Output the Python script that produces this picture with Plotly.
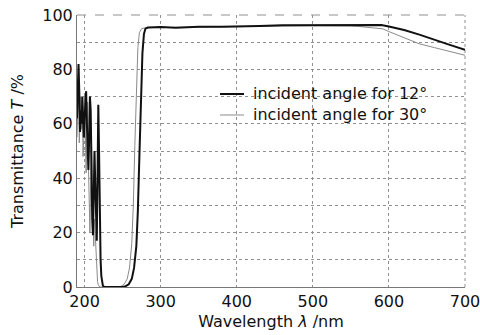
import plotly.graph_objects as go

# 12 degree incidence (black)
wl_12 = [190, 191, 192, 193, 194, 195, 196, 197, 198, 199, 200, 201, 202, 203, 204, 205, 206, 207, 208, 209,
         210, 211, 212, 213, 214, 215, 216, 217, 218, 219, 220, 221, 222, 223, 224, 226, 250, 254, 258, 262,
         265, 268, 270, 272, 274, 276, 278, 280, 283, 300, 320, 350, 380, 400, 430, 460, 500, 540, 570, 590,
         600, 620, 640, 660, 680, 700]
t_12 = [62, 70, 82, 72, 57, 65, 60, 70, 62, 55, 62, 68, 72, 60, 48, 43, 55, 70, 65, 40,
        25, 19, 30, 50, 38, 20, 17, 40, 67, 50, 25, 10, 4, 1.5, 0.5, 0, 0, 0.3, 1, 3,
        7, 15, 28, 48, 70, 86, 93, 95, 95.4, 95.6, 95.3, 95.7, 95.7, 95.9, 96.0, 96.2, 96.3, 96.4, 96.5, 96.3,
        95.8, 94.5, 92.8, 90.8, 89.0, 87.2]

# 30 degree incidence (gray)
wl_30 = [190, 191, 192, 193, 194, 195, 196, 197, 198, 199, 200, 201, 202, 203, 204, 205, 206, 207, 208, 209,
         210, 211, 212, 213, 214, 215, 216, 217, 218, 219, 221, 245, 248, 252, 256, 259, 262, 264, 266, 268,
         270, 272, 275, 280, 300, 330, 360, 400, 450, 500, 530, 550, 560, 580, 592, 600, 620, 640, 660, 680, 700]
t_30 = [55, 72, 75, 53, 60, 70, 58, 66, 48, 55, 70, 60, 42, 55, 68, 45, 30, 20, 40, 55,
        35, 20, 15, 25, 18, 10, 5, 2, 0.8, 0.3, 0, 0, 0.3, 1, 3, 7, 16, 30, 52, 75,
        88, 93.5, 95, 95.3, 95.4, 95.3, 95.6, 95.7, 95.9, 96.1, 96.1, 96.0, 95.8, 95.3, 94.9, 93.9, 91.5, 89.4, 88.0, 86.6, 85.2]

series_names = ["incident angle for 12°", "incident angle for 30°"]
series_colors = ["#111111", "#8a8a8a"]
series_widths = [2, 1]

x_ticks = [200, 300, 400, 500, 600, 700]
y_grid = [0, 10, 20, 30, 40, 50, 60, 70, 80, 90, 100]
y_labels = ["0", "", "20", "", "40", "", "60", "", "80", "", "100"]

FONT = "DejaVu Sans"
FS = 16
TXT = "#111111"

fig = go.Figure()
fig.add_trace(go.Scatter(x=wl_30, y=t_30, mode="lines", name=series_names[1], showlegend=False,
                         line=dict(color=series_colors[1], width=series_widths[1])))
fig.add_trace(go.Scatter(x=wl_12, y=t_12, mode="lines", name=series_names[0], showlegend=False,
                         line=dict(color=series_colors[0], width=series_widths[0])))

# frame: dashed top, dotted right
fig.add_shape(type="line", xref="paper", yref="paper", x0=0, x1=1, y0=1, y1=1,
              line=dict(color="#909090", width=1, dash="dash"), layer="below")
fig.add_shape(type="line", xref="paper", yref="paper", x0=1, x1=1, y0=0, y1=1,
              line=dict(color="#909090", width=1, dash="dot"), layer="below")

# legend box (covers the grid)
fig.add_shape(type="rect", xref="paper", yref="paper", x0=0.358, x1=0.964, y0=0.585, y1=0.745,
              line=dict(width=0), fillcolor="white", layer="below")
leg_y = [0.7096, 0.6324]
for i in range(2):
    fig.add_shape(type="line", xref="paper", yref="paper", x0=0.3686, x1=0.4304,
                  y0=leg_y[i], y1=leg_y[i],
                  line=dict(color=series_colors[i], width=series_widths[i]))
    fig.add_annotation(xref="paper", yref="paper", x=0.4485, y=leg_y[i], xanchor="left",
                       yanchor="middle", text=series_names[i], showarrow=False,
                       font=dict(family=FONT, size=16, color=TXT))

fig.update_layout(
    width=480, height=335,
    margin=dict(l=77, r=15, t=15, b=48, autoexpand=False),
    paper_bgcolor="white", plot_bgcolor="white",
    font=dict(family=FONT, size=FS, color=TXT),
    showlegend=False,
    xaxis=dict(range=[190, 700], tickvals=x_ticks, showgrid=True, gridcolor="#909090",
               griddash="dot", gridwidth=1, showline=True, linecolor="#777777", linewidth=1,
               zeroline=False, ticks="", automargin=False,
               tickfont=dict(family=FONT, size=FS, color=TXT), ticklabeloverflow="allow",
               title=dict(text="Wavelength <i>λ</i> /nm", font=dict(family=FONT, size=FS, color=TXT), standoff=5)),
    yaxis=dict(range=[0, 100], tickvals=y_grid, ticktext=y_labels, showgrid=True,
               gridcolor="#909090", griddash="dot", gridwidth=1, showline=True,
               linecolor="#777777", linewidth=1, zeroline=False, ticks="", automargin=False,
               tickfont=dict(family=FONT, size=FS, color=TXT), ticklabeloverflow="allow",
               title=dict(text="Transmittance <i>T</i> /%", font=dict(family=FONT, size=FS, color=TXT), standoff=14)),
)

fig.write_html("out.html")
